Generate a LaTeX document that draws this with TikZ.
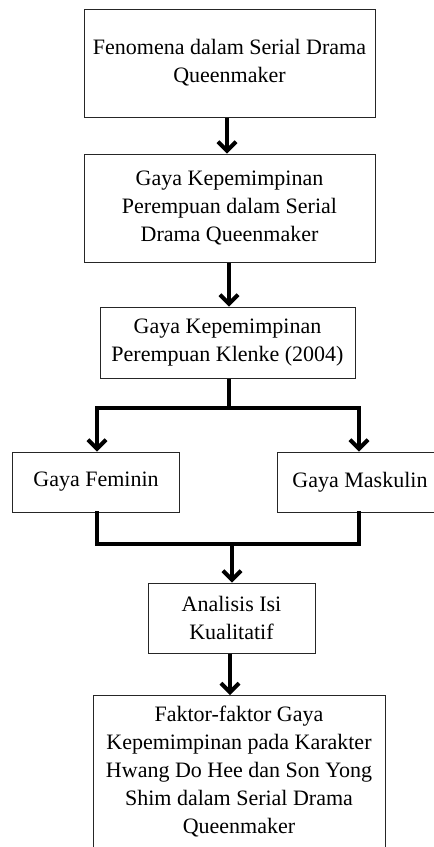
\documentclass[tikz,border=0pt]{standalone}
\usepackage{fontspec}
\setmainfont{Liberation Serif}
\usetikzlibrary{arrows.meta}
\begin{document}
\begin{tikzpicture}[x=1pt,y=-1pt,
  box/.style={draw=black!85,line width=1pt,rectangle,inner sep=0pt,align=center,
    font=\fontsize{22}{28}\selectfont},
  conn/.style={line width=4pt,black},
  arr/.style={conn,-{Straight Barb[length=9pt,width=18pt]}}]
\useasboundingbox (0,0) rectangle (434,847);
\node[box,minimum width=291pt,minimum height=108pt] (b1) at (229.5,63) {Fenomena dalam Serial Drama\\Queenmaker};
\node[box,minimum width=291pt,minimum height=108pt] (b2) at (229.5,208) {Gaya Kepemimpinan\\Perempuan dalam Serial\\Drama Queenmaker};
\node[box,minimum width=255pt,minimum height=71pt] (b3) at (227.5,342.5) {Gaya Kepemimpinan\\Perempuan Klenke (2004)};
\node[box,minimum width=167pt,minimum height=60pt] (fem) at (96,482) {Gaya Feminin};
\node[box,minimum width=166pt,minimum height=60pt] (mas) at (360,482) {Gaya Maskulin};
\node[box,minimum width=167pt,minimum height=70pt] (ana) at (231.5,618) {Analisis Isi\\Kualitatif};
\node[box,minimum width=292pt,inner ysep=10pt,text depth=16pt,anchor=north] (fin) at (239,695) {Faktor-faktor Gaya\\Kepemimpinan pada Karakter\\Hwang Do Hee dan Son Yong\\Shim dalam Serial Drama\\Queenmaker};
\coordinate (j1) at (229,408);
\coordinate (j2) at (232,544);
\draw[arr] (b1.south -| 227,0) -- (b2.north -| 227,0);
\draw[arr] (b2.south -| 229,0) -- (b3.north -| 229,0);
\draw[conn] (b3.south -| j1) -- (j1);
\draw[arr] (j1) -| ([xshift=1pt]fem.north);
\draw[arr] (j1) -| ([xshift=-1pt]mas.north);
\draw[conn,line cap=rect] ([xshift=1pt]fem.south) |- (j2) -| ([xshift=-1pt]mas.south);
\draw[arr] (j2) -- (ana.north -| j2);
\draw[arr] (ana.south -| 230,0) -- (fin.north -| 230,0);
\end{tikzpicture}
\end{document}
